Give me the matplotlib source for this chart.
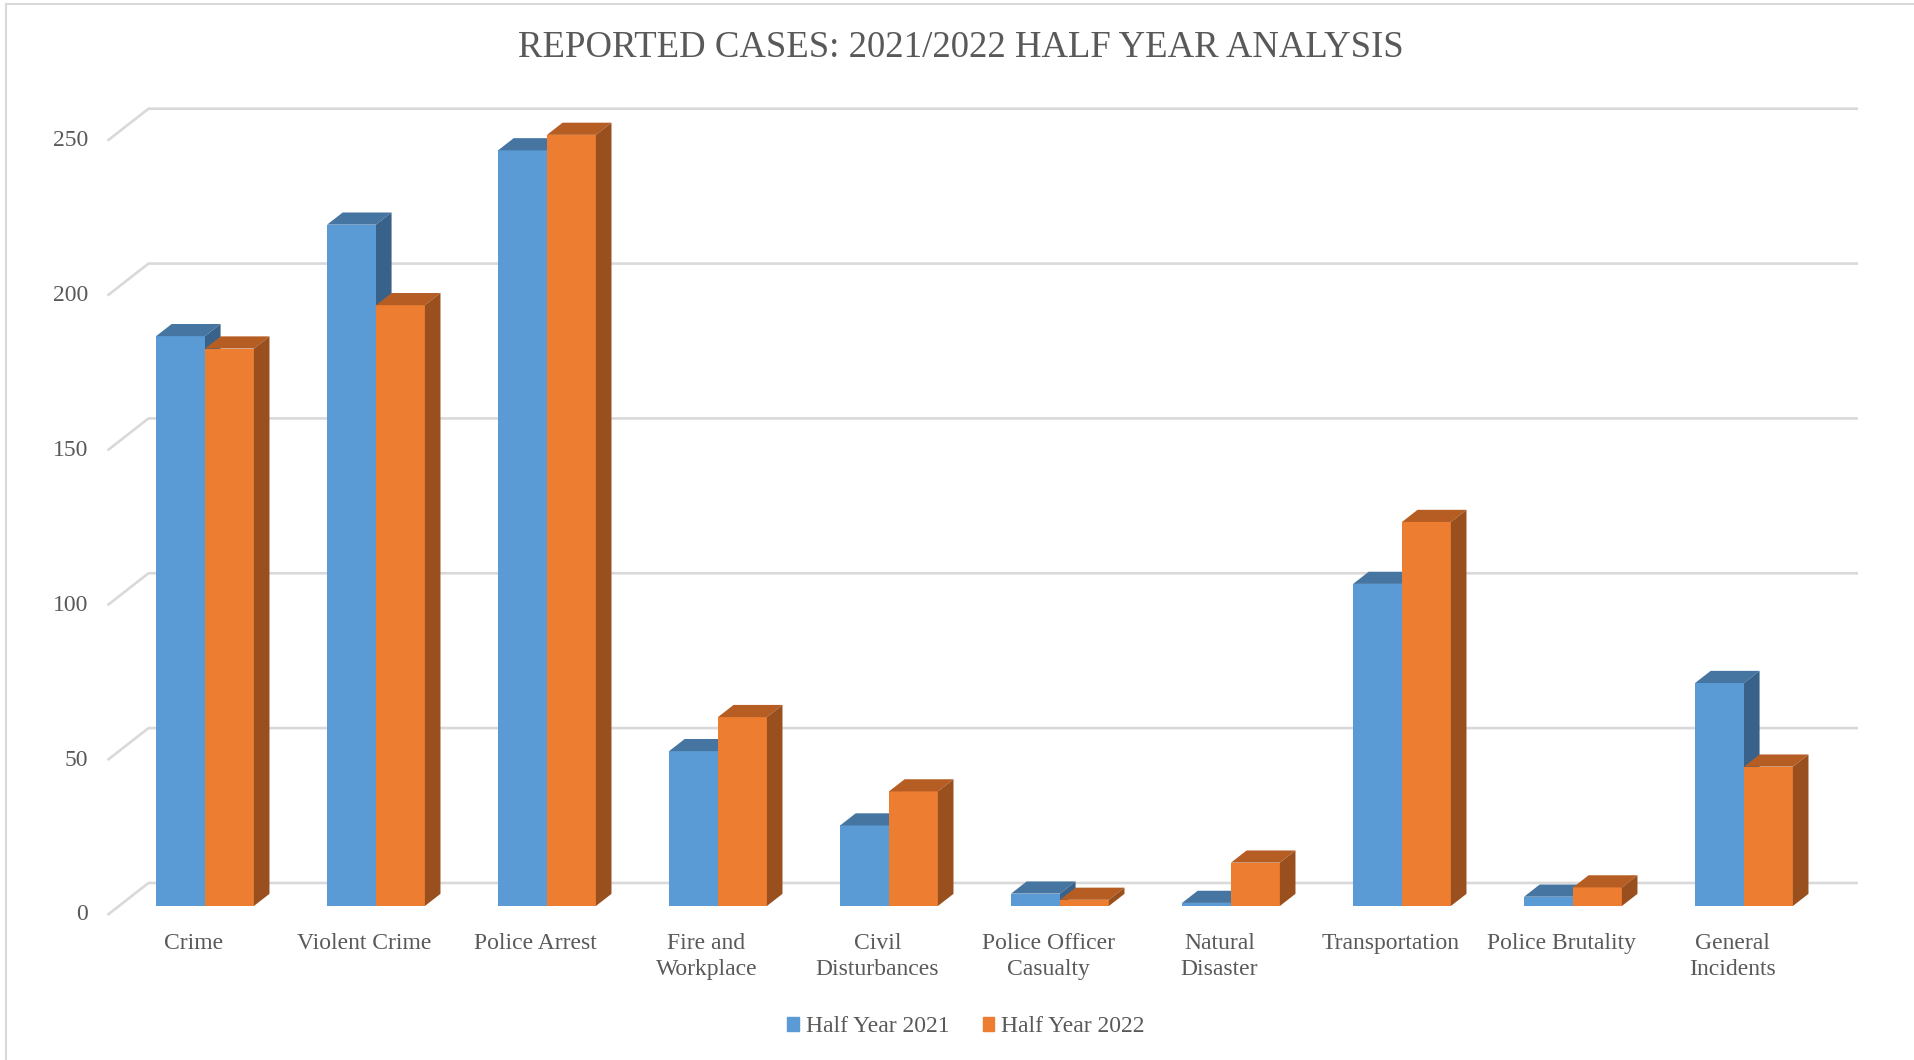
import matplotlib
matplotlib.use("Agg")
import matplotlib.pyplot as plt
from matplotlib.patches import Patch
from matplotlib.lines import Line2D

# data
categories = ["Crime", "Violent Crime", "Police Arrest", "Fire and\nWorkplace",
              "Civil\nDisturbances", "Police Officer\nCasualty", "Natural\nDisaster",
              "Transportation", "Police Brutality", "General\nIncidents"]
half_2021 = [184, 220, 244, 50, 26, 4, 1, 104, 3, 72]
half_2022 = [180, 194, 249, 61, 37, 2, 14, 124, 6, 45]
y_ticks = [0, 50, 100, 150, 200, 250]
series_names = ["Half Year 2021", "Half Year 2022"]

# layout (pixels of the 1915x1060 picture)
W, H = 1915, 1060
PX_CAT = 171.0      # px per category
PX_VAL = 3.097      # px per value unit
X0_PX = 205.0       # centre of first pair
BASE_PX = 906.0     # bar front base (from top)

DX = 41.0 / PX_CAT  # full floor depth, data units
DY = 32.0 / PX_VAL
T0, T1 = 0.28, 0.66  # depth of bar front / back
BAR_W = 48.9 / PX_CAT

GRID_C = "#D9D9D9"
TXT_C = "#595959"
FONT = "Liberation Serif"

colors = {
    "Half Year 2021": ("#5B9BD5", "#4575A0", "#386289"),
    "Half Year 2022": ("#ED7D31", "#B55D22", "#99501E"),
}

fig = plt.figure(figsize=(W / 100, H / 100), dpi=100)
ax = fig.add_axes([0, 0, 1, 1])
ax.set_xlim(-X0_PX / PX_CAT, (W - X0_PX) / PX_CAT)
ax.set_ylim(-(H - BASE_PX) / PX_VAL, BASE_PX / PX_VAL)
ax.axis("off")

wall_x = (107.5 - X0_PX) / PX_CAT
right_x = (1858 - X0_PX) / PX_CAT

# gridlines: slanted piece on the side wall + flat piece on the back wall
for v in y_ticks:
    xs = [wall_x, wall_x + DX, right_x]
    ys = [v - T0 * DY, v + (1 - T0) * DY, v + (1 - T0) * DY]
    ax.plot(xs, ys, color=GRID_C, lw=1.9, zorder=1, solid_capstyle="butt")
    ax.text((88 - X0_PX) / PX_CAT, v - T0 * DY, str(v), ha="right", va="center",
            fontsize=17, color=TXT_C, family=FONT)

ddx = (T1 - T0) * DX
ddy = (T1 - T0) * DY


def bar3d(xl, v, cols):
    xr = xl + BAR_W
    front, top, side = cols
    ax.fill([xl, xr, xr, xl], [0, 0, v, v], color=front, zorder=3, lw=0)
    ax.fill([xl, xr, xr + ddx, xl + ddx], [v, v, v + ddy, v + ddy],
            color=top, zorder=3, lw=0)
    ax.fill([xr, xr + ddx, xr + ddx, xr], [0, ddy, v + ddy, v],
            color=side, zorder=3, lw=0)


for i, cat in enumerate(categories):
    bar3d(i - BAR_W, half_2021[i], colors[series_names[0]])
    bar3d(i, half_2022[i], colors[series_names[1]])
    ax.text(i - T0 * DX, -(933 - BASE_PX) / PX_VAL, cat, ha="center", va="top",
            multialignment="center", fontsize=17, color=TXT_C, family=FONT,
            linespacing=1.33)

fig.text(961 / W, 1 - 48 / H, "REPORTED CASES: 2021/2022 HALF YEAR ANALYSIS",
         ha="center", va="center", fontsize=26.5, color=TXT_C, family=FONT)

handles = [Patch(color=colors[n][0], label=n) for n in series_names]
leg = fig.legend(handles=handles, loc="center", bbox_to_anchor=(966 / W, 1 - 1027 / H),
                 ncol=2, frameon=False, handlelength=0.5, handleheight=0.5,
                 handletextpad=0.3, columnspacing=1.4,
                 prop={"family": FONT, "size": 17})
for t in leg.get_texts():
    t.set_color(TXT_C)

# chart border (left and top visible)
fig.add_artist(Line2D([6 / W, 6 / W], [0, 1 - 4 / H], transform=fig.transFigure,
                      color=GRID_C, lw=1.5))
fig.add_artist(Line2D([6 / W, 1], [1 - 4 / H, 1 - 4 / H], transform=fig.transFigure,
                      color=GRID_C, lw=1.5))

fig.savefig("out.png", dpi=100)
